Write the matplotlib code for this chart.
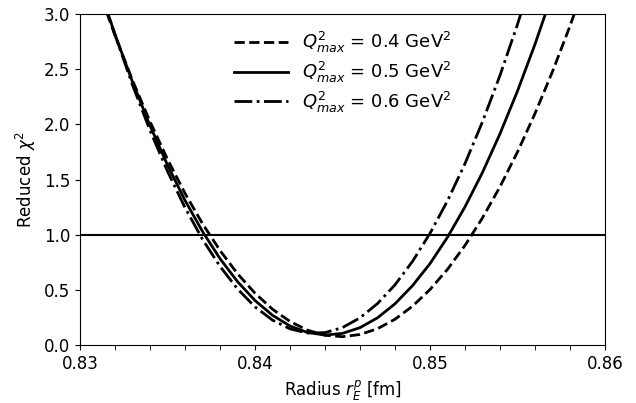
import numpy as np
import matplotlib.pyplot as plt
from matplotlib.ticker import MultipleLocator

# radius values [fm]
r_04 = [0.831, 0.832, 0.833, 0.834, 0.835, 0.836, 0.837, 0.838, 0.839, 0.840,
        0.841, 0.842, 0.843, 0.844, 0.845, 0.846, 0.847, 0.848, 0.849, 0.850,
        0.851, 0.852, 0.853, 0.854, 0.855, 0.856, 0.857, 0.858, 0.859]
chi_04 = [3.244, 2.804, 2.397, 2.024, 1.682, 1.374, 1.099, 0.856, 0.646, 0.469,
          0.324, 0.213, 0.134, 0.088, 0.075, 0.095, 0.147, 0.233, 0.351, 0.502,
          0.685, 0.902, 1.151, 1.433, 1.748, 2.096, 2.476, 2.889, 3.336]

r_05 = r_04[:27]
chi_05 = [3.282, 2.813, 2.382, 1.987, 1.630, 1.310, 1.028, 0.782, 0.574, 0.403,
          0.269, 0.172, 0.113, 0.090, 0.105, 0.157, 0.246, 0.373, 0.537, 0.737,
          0.976, 1.251, 1.563, 1.913, 2.300, 2.724, 3.185]

r_06 = r_04[:26]
chi_06 = [3.303, 2.808, 2.355, 1.943, 1.573, 1.244, 0.957, 0.712, 0.508, 0.345,
          0.225, 0.146, 0.108, 0.112, 0.158, 0.246, 0.375, 0.545, 0.757, 1.011,
          1.306, 1.643, 2.022, 2.442, 2.904, 3.407]

plt.rcParams['font.size'] = 12

fig = plt.figure(figsize=(6.36, 4.03), dpi=100)
ax = fig.add_axes([0.126, 0.144, 0.825, 0.821])

ax.plot(r_04, chi_04, 'k--', lw=2, label=r'$Q^2_{max}$ = 0.4 GeV$^2$')
ax.plot(r_05, chi_05, 'k-', lw=2, label=r'$Q^2_{max}$ = 0.5 GeV$^2$')
ax.plot(r_06, chi_06, 'k-.', lw=2, label=r'$Q^2_{max}$ = 0.6 GeV$^2$')
ax.axhline(1.0, color='k', lw=1.5)

ax.set_xlim(0.83, 0.86)
ax.set_ylim(0, 3)
ax.xaxis.set_major_locator(MultipleLocator(0.01))
ax.xaxis.set_minor_locator(MultipleLocator(0.002))
ax.yaxis.set_major_locator(MultipleLocator(0.5))
ax.tick_params(which='minor', length=3.5)
ax.set_xlabel(r'Radius $r_E^p$ [fm]')
ax.set_ylabel(r'Reduced $\chi^2$')
ax.legend(loc='upper center', frameon=False, handlelength=3.0,
          fontsize=13, labelspacing=0.25)

fig.savefig('out.png')
